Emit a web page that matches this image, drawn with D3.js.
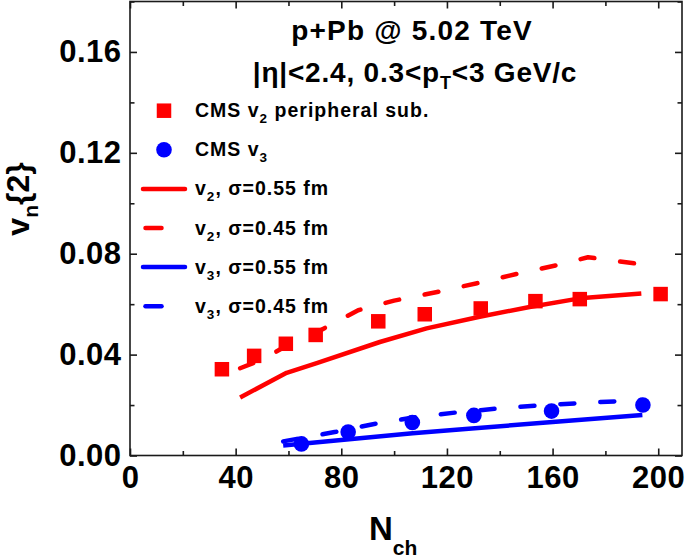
<!DOCTYPE html>
<html>
<head>
<meta charset="utf-8">
<script src="https://cdn.jsdelivr.net/npm/d3@7"></script>
<style>
  html, body { margin: 0; padding: 0; background: #fff; }
  svg { display: block; font-family: "Liberation Sans", Arial, sans-serif; font-weight: bold; }
</style>
</head>
<body>
<svg id="chart" width="685" height="558"></svg>
<script>
// ---- data ----
const nchV2Data = [34.8, 47, 59, 70.3, 94, 111.6, 132.8, 153.5, 170.3, 200.9];
const v2Data    = [0.0342, 0.0395, 0.0443, 0.0478, 0.0532, 0.0560, 0.0583, 0.0612, 0.0620, 0.0640];
const nchV3Data = [64.9, 82.6, 106.9, 130.2, 159.6, 194.2];
const v3Data    = [0.0046, 0.0093, 0.0131, 0.0159, 0.0176, 0.0200];

const nchV2s055 = [41.7, 59.3, 70.7, 94.6, 112.3, 132.4, 151.3, 170.3, 193.6];
const v2s055    = [0.0230, 0.0328, 0.0366, 0.0450, 0.0504, 0.0550, 0.0589, 0.0623, 0.0642];
const nchV2s045 = [41.7, 50, 59.3, 71.3, 86.4, 100, 116.3, 131.4, 146.5, 161.4, 173.4, 193.6];
const v2s045    = [0.0346, 0.0380, 0.0435, 0.0492, 0.0576, 0.0614, 0.0648, 0.0683, 0.0720, 0.0754, 0.0786, 0.0758];
const nchV3s055 = [58, 83, 107, 127, 160, 194];
const v3s055    = [0.0040, 0.0064, 0.0088, 0.0105, 0.0133, 0.0161];
const nchV3s045 = [58, 78, 92, 108, 123, 138, 154, 169, 194];
const v3s045    = [0.0056, 0.0094, 0.0124, 0.0152, 0.0170, 0.0185, 0.0198, 0.0207, 0.0220];

const xMajorTicks = [0, 40, 80, 120, 160, 200];
const xMinorTicks = [20, 60, 100, 140, 180];
const yMajorTicks = [0.00, 0.04, 0.08, 0.12, 0.16];
const yMinorTicks = [0.02, 0.06, 0.10, 0.14, 0.18];

const legendItems = [
  {type: "square", color: "#ff0000", main: "CMS v", sub: "2", rest: " peripheral sub."},
  {type: "circle", color: "#0000ff", main: "CMS v", sub: "3", rest: ""},
  {type: "solid",  color: "#ff0000", main: "v", sub: "2", rest: ", \u03c3=0.55 fm"},
  {type: "dash",   color: "#ff0000", main: "v", sub: "2", rest: ", \u03c3=0.45 fm"},
  {type: "solid",  color: "#0000ff", main: "v", sub: "3", rest: ", \u03c3=0.55 fm"},
  {type: "dash",   color: "#0000ff", main: "v", sub: "3", rest: ", \u03c3=0.45 fm"}
];

// ---- layout ----
const L = 130, R = 682, T = 1.5, B = 455.5;
const svg = d3.select("#chart");
const x = d3.scaleLinear().domain([0, 209]).range([L, R]);
const y = d3.scaleLinear().domain([0, 0.18]).range([B, T]);

const tickFont = 31;
const axisColor = "#1a1a1a";

function styleAxis(g) {
  g.select(".domain").remove();
  g.selectAll(".tick line").attr("stroke", axisColor).attr("stroke-width", 1.6);
  g.selectAll(".tick text").attr("fill", "#000").style("font-size", tickFont + "px")
    .style("font-weight", "bold").style("letter-spacing", "0.5px")
    .style("font-family", '"Liberation Sans", Arial, sans-serif');
}

// bottom
svg.append("g").attr("transform", `translate(0,${B})`)
  .call(d3.axisBottom(x).tickValues(xMajorTicks).tickSize(-7).tickPadding(10).tickFormat(d3.format("d")))
  .call(styleAxis);
svg.append("g").attr("transform", `translate(0,${B})`)
  .call(d3.axisBottom(x).tickValues(xMinorTicks).tickSize(-4.5).tickFormat(""))
  .call(styleAxis);
// top
svg.append("g").attr("transform", `translate(0,${T})`)
  .call(d3.axisTop(x).tickValues(xMajorTicks).tickSize(-7).tickFormat(""))
  .call(styleAxis);
svg.append("g").attr("transform", `translate(0,${T})`)
  .call(d3.axisTop(x).tickValues(xMinorTicks).tickSize(-4.5).tickFormat(""))
  .call(styleAxis);
// left
svg.append("g").attr("transform", `translate(${L},0)`)
  .call(d3.axisLeft(y).tickValues(yMajorTicks).tickSize(-7).tickPadding(8.5).tickFormat(d3.format(".2f")))
  .call(styleAxis);
svg.append("g").attr("transform", `translate(${L},0)`)
  .call(d3.axisLeft(y).tickValues(yMinorTicks).tickSize(-4.5).tickFormat(""))
  .call(styleAxis);
// right
svg.append("g").attr("transform", `translate(${R},0)`)
  .call(d3.axisRight(y).tickValues(yMajorTicks).tickSize(-7).tickFormat(""))
  .call(styleAxis);
svg.append("g").attr("transform", `translate(${R},0)`)
  .call(d3.axisRight(y).tickValues(yMinorTicks).tickSize(-4.5).tickFormat(""))
  .call(styleAxis);

// frame
svg.append("rect").attr("x", L).attr("y", T).attr("width", R - L).attr("height", B - T)
  .attr("fill", "none").attr("stroke", axisColor).attr("stroke-width", 1.6);

// ---- model curves ----
const line = d3.line().x(d => x(d[0])).y(d => y(d[1]));
function curve(ns, vs, color, dashed) {
  const pts = ns.map((n, i) => [n, vs[i]]);
  svg.append("path").datum(pts).attr("d", line)
    .attr("fill", "none").attr("stroke", color).attr("stroke-width", 4.5)
    .attr("stroke-linecap", dashed ? "round" : "butt")
    .attr("stroke-linejoin", "round")
    .attr("stroke-dasharray", dashed ? "14,26" : null);
}
curve(nchV2s055, v2s055, "#ff0000", false);
curve(nchV2s045, v2s045, "#ff0000", true);
curve(nchV3s055, v3s055, "#0000ff", false);
curve(nchV3s045, v3s045, "#0000ff", true);

// ---- data points ----
const sq = 14.5;
svg.append("g").selectAll("rect").data(nchV2Data.map((n, i) => [n, v2Data[i]])).join("rect")
  .attr("x", d => x(d[0]) - sq / 2).attr("y", d => y(d[1]) - sq / 2)
  .attr("width", sq).attr("height", sq).attr("fill", "#ff0000");
svg.append("g").selectAll("circle").data(nchV3Data.map((n, i) => [n, v3Data[i]])).join("circle")
  .attr("cx", d => x(d[0])).attr("cy", d => y(d[1])).attr("r", 7.8).attr("fill", "#0000ff");

// ---- legend ----
const legY0 = 110.7, legDY = 39.1;
const lg = svg.append("g");
legendItems.forEach((it, i) => {
  const cy = legY0 + i * legDY;
  if (it.type === "square") {
    lg.append("rect").attr("x", 164 - sq / 2).attr("y", cy - sq / 2).attr("width", sq).attr("height", sq).attr("fill", it.color);
  } else if (it.type === "circle") {
    lg.append("circle").attr("cx", 164).attr("cy", cy).attr("r", 7.8).attr("fill", it.color);
  } else if (it.type === "solid") {
    lg.append("line").attr("x1", 143).attr("x2", 185).attr("y1", cy).attr("y2", cy)
      .attr("stroke", it.color).attr("stroke-width", 4.5).attr("stroke-linecap", "round");
  } else {
    lg.append("line").attr("x1", 145.5).attr("x2", 161.5).attr("y1", cy).attr("y2", cy)
      .attr("stroke", it.color).attr("stroke-width", 4.5).attr("stroke-linecap", "round");
  }
  const t = lg.append("text").attr("x", 195).attr("y", cy + 6.5)
    .style("font-size", "19.5px").style("letter-spacing", "1px").attr("fill", "#000");
  t.append("tspan").text(it.main);
  t.append("tspan").attr("dy", 6).style("font-size", "13.5px").text(it.sub);
  if (it.rest) t.append("tspan").attr("dy", -6).text(it.rest);
});

// ---- annotation ----
svg.append("text").attr("x", 412).attr("y", 40).attr("text-anchor", "middle")
  .style("font-size", "28px").style("letter-spacing", "1.2px").text("p+Pb @ 5.02 TeV");
const t2 = svg.append("text").attr("x", 415).attr("y", 81.5).attr("text-anchor", "middle")
  .style("font-size", "28px").style("letter-spacing", "0.8px");
t2.append("tspan").text("|\u03b7|<2.4, 0.3<p");
t2.append("tspan").attr("dy", 7).style("font-size", "18px").text("T");
t2.append("tspan").attr("dy", -7).text("<3 GeV/c");

// ---- axis titles ----
const xt = svg.append("text").attr("x", 369).attr("y", 540).style("font-size", "33px");
xt.append("tspan").text("N");
xt.append("tspan").attr("dy", 15).style("font-size", "21px").text("ch");

const yt = svg.append("text").attr("transform", "translate(29,199) rotate(-90)")
  .attr("text-anchor", "middle").style("font-size", "32px");
yt.append("tspan").text("v");
yt.append("tspan").attr("dy", 9).style("font-size", "21px").text("n");
yt.append("tspan").attr("dy", -9).text("{2}");
</script>
</body>
</html>
